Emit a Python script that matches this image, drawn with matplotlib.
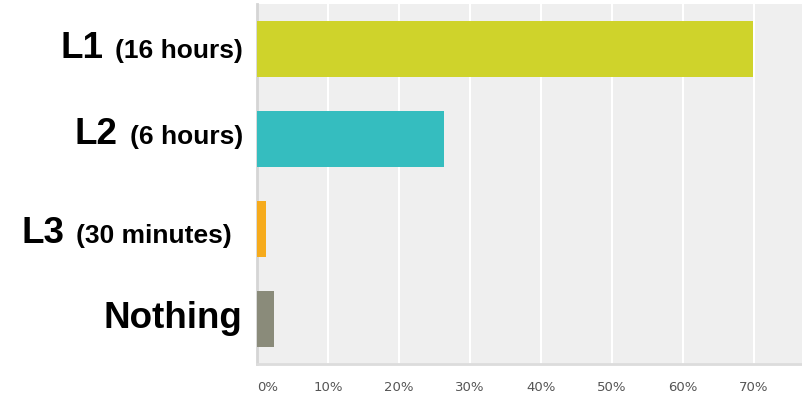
import matplotlib.pyplot as plt

# datos
niveles = ["L1", "L2", "L3", "Nothing"]
detalles = ["(16 hours)", "(6 hours)", "(30 minutes)", ""]
porcentajes = [69.8, 26.4, 1.2, 2.4]
colores = ["#cfd32b", "#35bdbf", "#f6ab1c", "#8a8b7a"]
ticks = [0, 10, 20, 30, 40, 50, 60, 70]

fig = plt.figure(figsize=(8.03, 3.93), dpi=100)
ax = fig.add_axes([257 / 803, 29 / 393, 1 - 257 / 803, 360 / 393])
ax.set_facecolor("#efefef")

y = list(range(len(niveles)))
ax.barh(y, porcentajes, height=0.62, color=colores, zorder=3)
ax.set_ylim(3.5, -0.5)
ax.set_xlim(0, 76.9)

ax.set_xticks(ticks)
ax.set_xticklabels([f"{t}%" for t in ticks], fontsize=9.5, color="#555555")
ax.tick_params(axis="x", length=0, pad=12)
ax.tick_params(axis="y", length=0, labelleft=False)
ax.get_xticklabels()[0].set_ha("left")
ax.grid(axis="x", color="white", linewidth=1.5, zorder=1)
for lado in ["top", "right"]:
    ax.spines[lado].set_visible(False)
ax.spines["left"].set_color("#d5d5d5")
ax.spines["left"].set_linewidth(2)
ax.spines["bottom"].set_color("#dcdcdc")
ax.spines["bottom"].set_linewidth(2)

# etiquetas con dos tamaños de letra
fuente = ["Liberation Sans", "DejaVu Sans"]
bordes = [243, 243, 232, 242]
bajadas = [-8.5, -5, -14, -9]
fig.canvas.draw()
renderer = fig.canvas.get_renderer()
for i in y:
    x_der = bordes[i] / 803
    if detalles[i]:
        t = ax.annotate(detalles[i], xy=(x_der, i), xycoords=("figure fraction", "data"),
                        xytext=(0, bajadas[i]), textcoords="offset pixels",
                        ha="right", va="baseline", fontsize=19, fontweight="bold",
                        family=fuente)
        bb = t.get_window_extent(renderer)
        x_der = (bb.x0 - 12) / 803
    ax.annotate(niveles[i], xy=(x_der, i), xycoords=("figure fraction", "data"),
                xytext=(0, bajadas[i]), textcoords="offset pixels",
                ha="right", va="baseline", fontsize=26.5, fontweight="bold",
                family=fuente)

fig.savefig("out.png", dpi=100)
